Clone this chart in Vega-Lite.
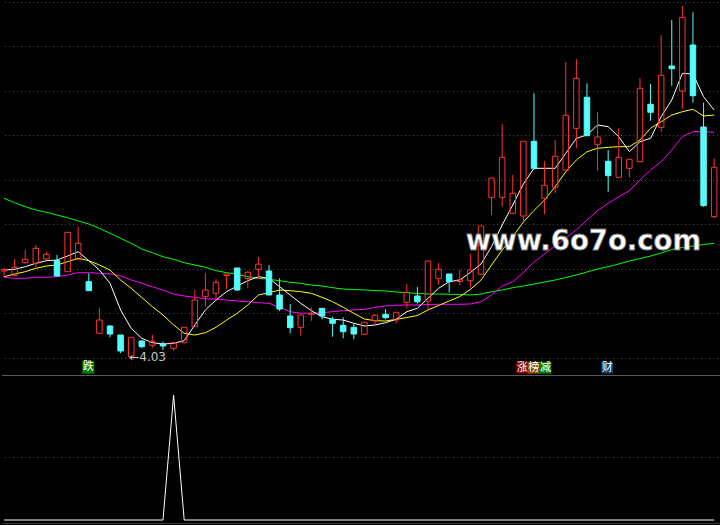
{
  "$schema": "https://vega.github.io/schema/vega-lite/v6.json",
  "background": "#000000",
  "padding": 0,
  "spacing": 0,
  "config": {"view": {"stroke": null}, "concat": {"spacing": 0}, "scale": {"continuousPadding": 0}},
  "datasets": {
    "k": [
      {"i":0,"o":4.89,"h":4.923,"l":4.833,"c":4.905,"m5":4.9,"m10":4.833,"m30":4.827,"m60":5.617,"s":0},
      {"i":1,"o":4.847,"h":5.01,"l":4.833,"c":4.927,"m5":4.907,"m10":4.86,"m30":4.817,"m60":5.573,"s":0},
      {"i":2,"o":4.973,"h":5.1,"l":4.965,"c":5.007,"m5":4.933,"m10":4.883,"m30":4.817,"m60":5.533,"s":0},
      {"i":3,"o":4.967,"h":5.15,"l":4.93,"c":5.117,"m5":4.967,"m10":4.917,"m30":4.827,"m60":5.5,"s":0},
      {"i":4,"o":5.01,"h":5.083,"l":5.0,"c":5.057,"m5":4.993,"m10":4.94,"m30":4.827,"m60":5.477,"s":0},
      {"i":5,"o":4.993,"h":5.05,"l":4.84,"c":4.84,"m5":5.0,"m10":4.95,"m30":4.833,"m60":5.45,"s":0},
      {"i":6,"o":4.883,"h":5.277,"l":4.883,"c":5.277,"m5":5.04,"m10":4.983,"m30":4.85,"m60":5.423,"s":0},
      {"i":7,"o":5.007,"h":5.333,"l":5.007,"c":5.167,"m5":5.083,"m10":5.017,"m30":4.873,"m60":5.39,"s":0},
      {"i":8,"o":4.783,"h":4.867,"l":4.693,"c":4.693,"m5":4.993,"m10":4.993,"m30":4.873,"m60":5.36,"s":0},
      {"i":9,"o":4.267,"h":4.523,"l":4.267,"c":4.4,"m5":4.9,"m10":4.95,"m30":4.867,"m60":5.317,"s":0},
      {"i":10,"o":4.34,"h":4.35,"l":4.227,"c":4.26,"m5":4.767,"m10":4.9,"m30":4.86,"m60":5.267,"s":0},
      {"i":11,"o":4.25,"h":4.25,"l":4.067,"c":4.09,"m5":4.5,"m10":4.8,"m30":4.84,"m60":5.217,"s":0},
      {"i":12,"o":4.03,"h":4.227,"l":4.03,"c":4.227,"m5":4.317,"m10":4.717,"m30":4.8,"m60":5.167,"s":0},
      {"i":13,"o":4.19,"h":4.2,"l":4.117,"c":4.133,"m5":4.217,"m10":4.625,"m30":4.767,"m60":5.11,"s":0},
      {"i":14,"o":4.147,"h":4.25,"l":4.123,"c":4.187,"m5":4.173,"m10":4.533,"m30":4.733,"m60":5.073,"s":0},
      {"i":15,"o":4.16,"h":4.183,"l":4.1,"c":4.14,"m5":4.16,"m10":4.45,"m30":4.7,"m60":5.033,"s":0},
      {"i":16,"o":4.117,"h":4.183,"l":4.093,"c":4.173,"m5":4.167,"m10":4.35,"m30":4.66,"m60":5.007,"s":100},
      {"i":17,"o":4.173,"h":4.327,"l":4.167,"c":4.327,"m5":4.193,"m10":4.267,"m30":4.64,"m60":4.973,"s":0},
      {"i":18,"o":4.333,"h":4.7,"l":4.333,"c":4.6,"m5":4.35,"m10":4.25,"m30":4.627,"m60":4.95,"s":0},
      {"i":19,"o":4.633,"h":4.867,"l":4.533,"c":4.7,"m5":4.5,"m10":4.273,"m30":4.613,"m60":4.927,"s":0},
      {"i":20,"o":4.667,"h":4.807,"l":4.583,"c":4.777,"m5":4.6,"m10":4.327,"m30":4.607,"m60":4.893,"s":0},
      {"i":21,"o":4.845,"h":4.86,"l":4.707,"c":4.86,"m5":4.683,"m10":4.4,"m30":4.6,"m60":4.873,"s":0},
      {"i":22,"o":4.92,"h":4.92,"l":4.693,"c":4.7,"m5":4.74,"m10":4.467,"m30":4.59,"m60":4.857,"s":0},
      {"i":23,"o":4.815,"h":4.89,"l":4.717,"c":4.877,"m5":4.793,"m10":4.55,"m30":4.583,"m60":4.833,"s":0},
      {"i":24,"o":4.907,"h":5.03,"l":4.807,"c":4.958,"m5":4.833,"m10":4.65,"m30":4.573,"m60":4.817,"s":0},
      {"i":25,"o":4.89,"h":4.95,"l":4.65,"c":4.65,"m5":4.817,"m10":4.673,"m30":4.567,"m60":4.807,"s":0},
      {"i":26,"o":4.65,"h":4.817,"l":4.49,"c":4.51,"m5":4.733,"m10":4.7,"m30":4.527,"m60":4.793,"s":0},
      {"i":27,"o":4.44,"h":4.56,"l":4.267,"c":4.323,"m5":4.65,"m10":4.693,"m30":4.483,"m60":4.777,"s":0},
      {"i":28,"o":4.327,"h":4.45,"l":4.243,"c":4.45,"m5":4.567,"m10":4.683,"m30":4.467,"m60":4.767,"s":0},
      {"i":29,"o":4.457,"h":4.527,"l":4.393,"c":4.467,"m5":4.493,"m10":4.667,"m30":4.467,"m60":4.75,"s":0},
      {"i":30,"o":4.517,"h":4.517,"l":4.407,"c":4.44,"m5":4.433,"m10":4.627,"m30":4.473,"m60":4.74,"s":0},
      {"i":31,"o":4.407,"h":4.433,"l":4.233,"c":4.367,"m5":4.407,"m10":4.583,"m30":4.483,"m60":4.723,"s":0},
      {"i":32,"o":4.347,"h":4.427,"l":4.217,"c":4.283,"m5":4.4,"m10":4.527,"m30":4.493,"m60":4.71,"s":0},
      {"i":33,"o":4.327,"h":4.367,"l":4.207,"c":4.26,"m5":4.367,"m10":4.467,"m30":4.5,"m60":4.705,"s":0},
      {"i":34,"o":4.257,"h":4.377,"l":4.257,"c":4.377,"m5":4.34,"m10":4.41,"m30":4.507,"m60":4.7,"s":0},
      {"i":35,"o":4.393,"h":4.457,"l":4.35,"c":4.447,"m5":4.35,"m10":4.393,"m30":4.527,"m60":4.695,"s":0},
      {"i":36,"o":4.457,"h":4.51,"l":4.407,"c":4.423,"m5":4.373,"m10":4.39,"m30":4.54,"m60":4.69,"s":0},
      {"i":37,"o":4.4,"h":4.477,"l":4.367,"c":4.477,"m5":4.407,"m10":4.407,"m30":4.547,"m60":4.68,"s":0},
      {"i":38,"o":4.577,"h":4.76,"l":4.517,"c":4.677,"m5":4.483,"m10":4.425,"m30":4.55,"m60":4.673,"s":0},
      {"i":39,"o":4.64,"h":4.73,"l":4.563,"c":4.583,"m5":4.517,"m10":4.445,"m30":4.55,"m60":4.665,"s":0},
      {"i":40,"o":4.59,"h":4.99,"l":4.5,"c":4.99,"m5":4.617,"m10":4.5,"m30":4.555,"m60":4.66,"s":0},
      {"i":41,"o":4.813,"h":4.97,"l":4.753,"c":4.907,"m5":4.717,"m10":4.545,"m30":4.557,"m60":4.66,"s":0},
      {"i":42,"o":4.86,"h":4.86,"l":4.673,"c":4.783,"m5":4.783,"m10":4.59,"m30":4.557,"m60":4.657,"s":0},
      {"i":43,"o":4.785,"h":4.903,"l":4.75,"c":4.803,"m5":4.8,"m10":4.635,"m30":4.557,"m60":4.655,"s":0},
      {"i":44,"o":4.793,"h":5.06,"l":4.725,"c":4.9,"m5":4.875,"m10":4.705,"m30":4.56,"m60":4.65,"s":0},
      {"i":45,"o":4.857,"h":5.34,"l":4.857,"c":5.34,"m5":4.96,"m10":4.8,"m30":4.583,"m60":4.66,"s":0},
      {"i":46,"o":5.627,"h":5.82,"l":5.45,"c":5.82,"m5":5.133,"m10":4.95,"m30":4.65,"m60":4.683,"s":0},
      {"i":47,"o":5.627,"h":6.36,"l":5.533,"c":6.027,"m5":5.35,"m10":5.1,"m30":4.74,"m60":4.7,"s":0},
      {"i":48,"o":5.467,"h":5.85,"l":5.467,"c":5.667,"m5":5.55,"m10":5.233,"m30":4.783,"m60":4.723,"s":0},
      {"i":49,"o":5.44,"h":6.187,"l":5.37,"c":6.187,"m5":5.76,"m10":5.38,"m30":4.873,"m60":4.74,"s":0},
      {"i":50,"o":6.187,"h":6.667,"l":5.9,"c":5.917,"m5":5.917,"m10":5.495,"m30":4.98,"m60":4.76,"s":0},
      {"i":51,"o":5.617,"h":5.987,"l":5.457,"c":5.747,"m5":5.917,"m10":5.6,"m30":5.06,"m60":4.78,"s":0},
      {"i":52,"o":5.727,"h":6.2,"l":5.667,"c":6.037,"m5":5.917,"m10":5.733,"m30":5.14,"m60":4.8,"s":0},
      {"i":53,"o":5.897,"h":6.98,"l":5.897,"c":6.447,"m5":6.067,"m10":5.883,"m30":5.22,"m60":4.825,"s":0},
      {"i":54,"o":6.317,"h":7.01,"l":6.117,"c":6.817,"m5":6.217,"m10":6.0,"m30":5.3,"m60":4.85,"s":0},
      {"i":55,"o":6.627,"h":6.767,"l":6.243,"c":6.243,"m5":6.25,"m10":6.083,"m30":5.4,"m60":4.88,"s":0},
      {"i":56,"o":6.157,"h":6.477,"l":5.893,"c":6.23,"m5":6.35,"m10":6.117,"m30":5.493,"m60":4.91,"s":0},
      {"i":57,"o":5.987,"h":6.1,"l":5.683,"c":5.843,"m5":6.333,"m10":6.127,"m30":5.567,"m60":4.933,"s":0},
      {"i":58,"o":5.827,"h":6.317,"l":5.827,"c":6.027,"m5":6.233,"m10":6.133,"m30":5.633,"m60":4.96,"s":0},
      {"i":59,"o":5.917,"h":6.007,"l":5.827,"c":6.007,"m5":6.083,"m10":6.133,"m30":5.693,"m60":4.99,"s":0},
      {"i":60,"o":5.983,"h":6.817,"l":5.983,"c":6.717,"m5":6.183,"m10":6.2,"m30":5.8,"m60":5.015,"s":0},
      {"i":61,"o":6.557,"h":6.76,"l":6.393,"c":6.477,"m5":6.217,"m10":6.317,"m30":5.9,"m60":5.04,"s":0},
      {"i":62,"o":6.327,"h":7.247,"l":6.283,"c":6.847,"m5":6.433,"m10":6.383,"m30":5.983,"m60":5.07,"s":0},
      {"i":63,"o":6.94,"h":7.4,"l":6.743,"c":6.913,"m5":6.6,"m10":6.45,"m30":6.1,"m60":5.105,"s":0},
      {"i":64,"o":6.69,"h":7.54,"l":6.51,"c":7.427,"m5":6.867,"m10":6.483,"m30":6.233,"m60":5.125,"s":0},
      {"i":65,"o":7.15,"h":7.477,"l":6.573,"c":6.643,"m5":6.86,"m10":6.507,"m30":6.283,"m60":5.14,"s":0},
      {"i":66,"o":6.33,"h":6.573,"l":5.533,"c":5.543,"m5":6.633,"m10":6.44,"m30":6.283,"m60":5.155,"s":0},
      {"i":67,"o":5.433,"h":6.017,"l":5.417,"c":5.927,"m5":6.5,"m10":6.45,"m30":6.277,"m60":5.167,"s":0}
    ],
    "grid": [{"g":7.575},{"g":7.135},{"g":6.685},{"g":6.245},{"g":5.795},{"g":5.355},{"g":4.905},{"g":4.465},{"g":4.015}],
    "tags": [
      {"i":7.95,"p":3.927,"lo":3.863,"hi":3.99,"t":"跌","k":"g"},
      {"i":48.89,"p":3.923,"lo":3.863,"hi":3.983,"t":"涨","k":"r"},
      {"i":49.98,"p":3.923,"lo":3.863,"hi":3.983,"t":"榜","k":"o"},
      {"i":51.08,"p":3.923,"lo":3.863,"hi":3.983,"t":"减","k":"g"},
      {"i":56.92,"p":3.923,"lo":3.863,"hi":3.983,"t":"财","k":"b"}
    ],
    "notes": [{"i":12,"p":4.027,"t":"←4.03"}],
    "wm": [{"i":54.67,"p":5.1,"t":"www.6o7o.com"}]
  },
  "vconcat": [
    {
      "width": 720,
      "height": 375,
      "layer": [
        {
          "data": {"name": "grid"},
          "mark": {"type": "rule", "color": "#4a4a4a", "strokeWidth": 1, "strokeDash": [1, 3]},
          "encoding": {
            "y": {"field": "g", "type": "quantitative", "scale": {"domain": [3.85, 7.6], "nice": false, "zero": false}, "axis": null}
          }
        },
        {
          "data": {"name": "k"},
          "mark": {"type": "line", "color": "#00ff00", "strokeWidth": 1},
          "encoding": {
            "x": {"field": "i", "type": "quantitative", "scale": {"domain": [-0.19, 67.74], "nice": false, "zero": false, "padding": 0}, "axis": null},
            "y": {"field": "m60", "type": "quantitative", "scale": {"domain": [3.85, 7.6], "nice": false, "zero": false}, "axis": null}
          }
        },
        {
          "data": {"name": "k"},
          "mark": {"type": "line", "color": "#ff00ff", "strokeWidth": 1},
          "encoding": {
            "x": {"field": "i", "type": "quantitative", "scale": {"domain": [-0.19, 67.74], "nice": false, "zero": false, "padding": 0}, "axis": null},
            "y": {"field": "m30", "type": "quantitative", "scale": {"domain": [3.85, 7.6], "nice": false, "zero": false}, "axis": null}
          }
        },
        {
          "data": {"name": "k"},
          "mark": {"type": "line", "color": "#ffff00", "strokeWidth": 1},
          "encoding": {
            "x": {"field": "i", "type": "quantitative", "scale": {"domain": [-0.19, 67.74], "nice": false, "zero": false, "padding": 0}, "axis": null},
            "y": {"field": "m10", "type": "quantitative", "scale": {"domain": [3.85, 7.6], "nice": false, "zero": false}, "axis": null}
          }
        },
        {
          "data": {"name": "k"},
          "mark": {"type": "line", "color": "#ffffff", "strokeWidth": 1},
          "encoding": {
            "x": {"field": "i", "type": "quantitative", "scale": {"domain": [-0.19, 67.74], "nice": false, "zero": false, "padding": 0}, "axis": null},
            "y": {"field": "m5", "type": "quantitative", "scale": {"domain": [3.85, 7.6], "nice": false, "zero": false}, "axis": null}
          }
        },
        {
          "data": {"name": "k"},
          "mark": {"type": "rule", "strokeWidth": 1},
          "encoding": {
            "x": {"field": "i", "type": "quantitative", "scale": {"domain": [-0.19, 67.74], "nice": false, "zero": false, "padding": 0}, "axis": null},
            "y": {"field": "h", "type": "quantitative", "scale": {"domain": [3.85, 7.6], "nice": false, "zero": false}, "axis": null},
            "y2": {"field": "c"},
            "color": {"condition": {"test": "datum.c >= datum.o", "value": "#ff3232"}, "value": "#54fcfc"}
          }
        },
        {
          "data": {"name": "k"},
          "mark": {"type": "rule", "strokeWidth": 1},
          "encoding": {
            "x": {"field": "i", "type": "quantitative", "scale": {"domain": [-0.19, 67.74], "nice": false, "zero": false, "padding": 0}, "axis": null},
            "y": {"field": "o", "type": "quantitative", "scale": {"domain": [3.85, 7.6], "nice": false, "zero": false}, "axis": null},
            "y2": {"field": "l"},
            "color": {"condition": {"test": "datum.c >= datum.o", "value": "#ff3232"}, "value": "#54fcfc"}
          }
        },
        {
          "data": {"name": "k"},
          "mark": {"type": "bar", "size": 5.5, "strokeWidth": 1},
          "encoding": {
            "x": {"field": "i", "type": "quantitative", "scale": {"domain": [-0.19, 67.74], "nice": false, "zero": false, "padding": 0}, "axis": null},
            "y": {"field": "o", "type": "quantitative", "scale": {"domain": [3.85, 7.6], "nice": false, "zero": false}, "axis": null},
            "y2": {"field": "c"},
            "stroke": {"condition": {"test": "datum.c >= datum.o", "value": "#ff3232"}, "value": "#54fcfc"},
            "fill": {"condition": {"test": "datum.c >= datum.o", "value": "rgba(0,0,0,0)"}, "value": "#54fcfc"}
          }
        },
        {
          "data": {"name": "notes"},
          "mark": {"type": "text", "align": "left", "baseline": "middle", "dx": -2, "font": "DejaVu Sans", "fontSize": 12, "color": "#c8c8c8"},
          "encoding": {
            "x": {"field": "i", "type": "quantitative", "scale": {"domain": [-0.19, 67.74], "nice": false, "zero": false, "padding": 0}, "axis": null},
            "y": {"field": "p", "type": "quantitative", "scale": {"domain": [3.85, 7.6], "nice": false, "zero": false}, "axis": null},
            "text": {"field": "t"}
          }
        },
        {
          "data": {"name": "tags"},
          "mark": {"type": "bar", "size": 12, "strokeWidth": 0, "opacity": 1},
          "encoding": {
            "x": {"field": "i", "type": "quantitative", "scale": {"domain": [-0.19, 67.74], "nice": false, "zero": false, "padding": 0}, "axis": null},
            "y": {"field": "lo", "type": "quantitative", "scale": {"domain": [3.85, 7.6], "nice": false, "zero": false}, "axis": null},
            "y2": {"field": "hi"},
            "fill": {"field": "k", "type": "nominal", "scale": {"domain": ["g", "r", "o", "b"], "range": ["#008000", "#800000", "#8a4a10", "#0b3a6b"]}, "legend": null}
          }
        },
        {
          "data": {"name": "tags"},
          "mark": {"type": "text", "align": "center", "baseline": "middle", "font": "Noto Sans CJK SC", "fontSize": 11, "color": "#ffffff"},
          "encoding": {
            "x": {"field": "i", "type": "quantitative", "scale": {"domain": [-0.19, 67.74], "nice": false, "zero": false, "padding": 0}, "axis": null},
            "y": {"field": "p", "type": "quantitative", "scale": {"domain": [3.85, 7.6], "nice": false, "zero": false}, "axis": null},
            "text": {"field": "t"}
          }
        },
        {
          "data": {"name": "wm"},
          "mark": {"type": "text", "align": "center", "baseline": "alphabetic", "font": "DejaVu Sans", "fontWeight": "bold", "fontSize": 27.5, "color": "#ffffff", "stroke": "#7a7a7a", "strokeWidth": 0.8},
          "encoding": {
            "x": {"field": "i", "type": "quantitative", "scale": {"domain": [-0.19, 67.74], "nice": false, "zero": false, "padding": 0}, "axis": null},
            "y": {"field": "p", "type": "quantitative", "scale": {"domain": [3.85, 7.6], "nice": false, "zero": false}, "axis": null},
            "text": {"field": "t"}
          }
        }
      ]
    },
    {
      "width": 720,
      "height": 150,
      "layer": [
        {
          "data": {"values": [{"g": 50}]},
          "mark": {"type": "rule", "color": "#4a4a4a", "strokeWidth": 1, "strokeDash": [1, 3]},
          "encoding": {
            "y": {"field": "g", "type": "quantitative", "scale": {"domain": [-4, 116], "nice": false, "zero": false}, "axis": null}
          }
        },
        {
          "data": {"values": [{"g": 115.6}]},
          "mark": {"type": "rule", "color": "#5a5a5a", "strokeWidth": 1},
          "encoding": {
            "y": {"field": "g", "type": "quantitative", "scale": {"domain": [-4, 116], "nice": false, "zero": false}, "axis": null}
          }
        },
        {
          "data": {"values": [{"g": -2.8}]},
          "mark": {"type": "rule", "color": "#3a3a3a", "strokeWidth": 1},
          "encoding": {
            "y": {"field": "g", "type": "quantitative", "scale": {"domain": [-4, 116], "nice": false, "zero": false}, "axis": null}
          }
        },
        {
          "data": {"name": "k"},
          "mark": {"type": "line", "color": "#ffffff", "strokeWidth": 1},
          "encoding": {
            "x": {"field": "i", "type": "quantitative", "scale": {"domain": [-0.19, 67.74], "nice": false, "zero": false, "padding": 0}, "axis": null},
            "y": {"field": "s", "type": "quantitative", "scale": {"domain": [-4, 116], "nice": false, "zero": false}, "axis": null}
          }
        }
      ]
    }
  ]
}
